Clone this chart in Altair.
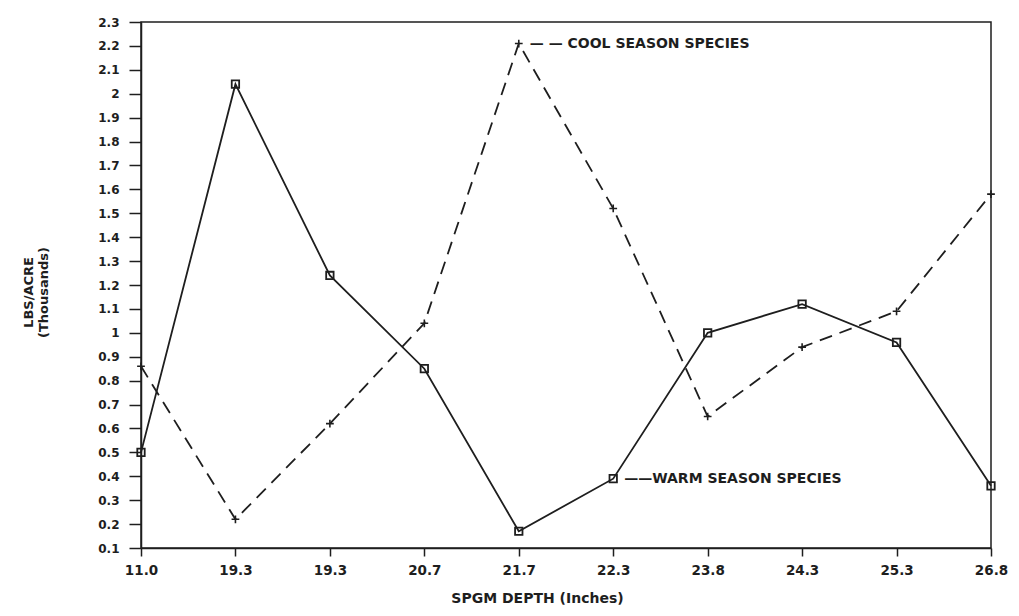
import altair as alt
import pandas as pd

depth_labels = ["11.0", "19.3", "19.3", "20.7", "21.7", "22.3", "23.8", "24.3", "25.3", "26.8"]
warm_values = [0.50, 2.04, 1.24, 0.85, 0.17, 0.39, 1.00, 1.12, 0.96, 0.36]
cool_values = [0.86, 0.22, 0.62, 1.04, 2.21, 1.52, 0.65, 0.94, 1.09, 1.58]
y_ticks = [0.1, 0.2, 0.3, 0.4, 0.5, 0.6, 0.7, 0.8, 0.9, 1.0, 1.1, 1.2,
           1.3, 1.4, 1.5, 1.6, 1.7, 1.8, 1.9, 2.0, 2.1, 2.2, 2.3]
series_names = ["WARM SEASON SPECIES", "COOL SEASON SPECIES"]
annot_text = ["\u2014\u2014WARM SEASON SPECIES", "\u2014 \u2014 COOL SEASON SPECIES"]
annot_index = [5, 4]

ink = "#1e1e1e"
font = "DejaVu Sans"

idx = list(range(len(depth_labels)))
warm = pd.DataFrame({"i": idx, "v": warm_values, "s": series_names[0]})
cool = pd.DataFrame({"i": idx, "v": cool_values, "s": series_names[1]})
annot = pd.DataFrame({
    "i": annot_index,
    "v": [warm_values[annot_index[0]], cool_values[annot_index[1]]],
    "t": annot_text,
})

label_arr = "[" + ",".join("'%s'" % l for l in depth_labels) + "]"

x_enc = alt.X("i:Q", scale=alt.Scale(domain=[0, len(depth_labels) - 1], nice=False, zero=False),
              axis=alt.Axis(values=idx, tickCount=len(idx) + 5,
                            labelExpr=label_arr + "[datum.value]",
                            title="SPGM DEPTH (Inches)", tickSize=8, labelPadding=7,
                            labelFontSize=13.5, labelFont=font, labelFontWeight="bold",
                            labelOverlap=False, labelFlush=False,
                            titleFontSize=14, titleFont=font, titleFontWeight="bold",
                            titleX=396, titleY=50, titleBaseline="middle", titleAnchor=None,
                            grid=False))
y_enc = alt.Y("v:Q", scale=alt.Scale(domain=[0.1, 2.3], nice=False, zero=False),
              axis=alt.Axis(values=y_ticks, tickCount=len(y_ticks) + 5,
                            labelExpr="format(datum.value, '.1~f')",
                            labelOverlap=False, labelFlush=False,
                            title=["LBS/ACRE", "(Thousands)"], tickSize=12, labelPadding=10,
                            labelFontSize=12, labelFont=font, labelFontWeight="bold",
                            titleFontSize=13, titleFont=font, titleFontWeight="bold",
                            titleAngle=-90, titleX=-113, titleY=270, titleAlign="center",
                            titleBaseline="middle", grid=False))

warm_line = alt.Chart(warm).mark_line(color=ink, strokeWidth=1.8).encode(x=x_enc, y=y_enc)
warm_pts = alt.Chart(warm).mark_point(shape="square", filled=False, color=ink,
                                      size=55, strokeWidth=1.8, opacity=1).encode(x="i:Q", y="v:Q")
cool_line = alt.Chart(cool).mark_line(color=ink, strokeWidth=1.8, strokeDash=[13, 8]).encode(x="i:Q", y="v:Q")
cool_pts = alt.Chart(cool).mark_point(shape="M-1,0L1,0M0,-1L0,1", filled=False, color=ink,
                                      size=60, strokeWidth=1.6, opacity=1).encode(x="i:Q", y="v:Q")
labels = alt.Chart(annot).mark_text(align="left", baseline="middle", dx=11, color=ink,
                                    font=font, fontWeight="bold", fontSize=14).encode(
    x="i:Q", y="v:Q", text="t:N")

chart = alt.layer(warm_line, cool_line, warm_pts, cool_pts, labels).properties(
    width=850, height=526,
    autosize=alt.AutoSizeParams(type="none"),
    padding={"left": 133, "top": 14, "right": 20, "bottom": 60},
    background="white",
).configure_view(stroke=ink, strokeWidth=1.5).configure_axis(
    domainColor=ink, domainWidth=1.5, tickColor=ink, tickWidth=1.5,
    labelColor=ink, titleColor=ink,
)

chart.save("out.html", embed_options={"renderer": "svg", "actions": False})
